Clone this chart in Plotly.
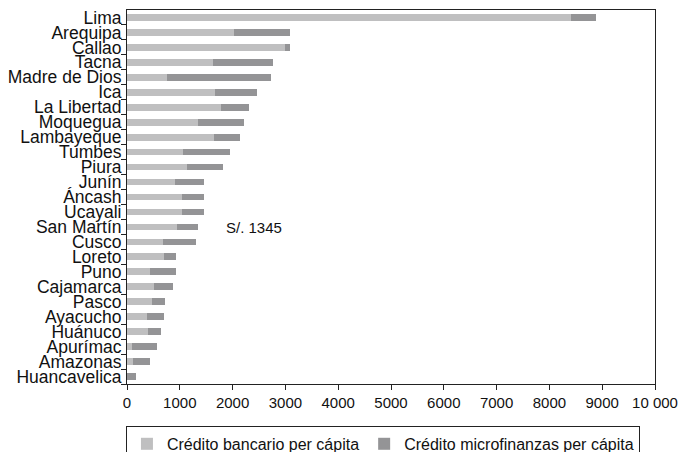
import plotly.graph_objects as go

# Regions, top to bottom as drawn
regions = [
    "Lima", "Arequipa", "Callao", "Tacna", "Madre de Dios", "Ica", "La Libertad",
    "Moquegua", "Lambayeque", "Tumbes", "Piura", "Junín", "Áncash", "Ucayali",
    "San Martín", "Cusco", "Loreto", "Puno", "Cajamarca", "Pasco", "Ayacucho",
    "Huánuco", "Apurímac", "Amazonas", "Huancavelica",
]
credito_bancario = [
    8400, 2020, 3000, 1620, 765, 1670, 1785,
    1350, 1650, 1065, 1140, 915, 1045, 1045,
    955, 690, 705, 440, 515, 480, 385,
    405, 100, 120, 0,
]
credito_microfinanzas = [
    480, 1070, 95, 1150, 1970, 800, 530,
    870, 495, 890, 685, 550, 420, 420,
    395, 625, 230, 495, 360, 245, 320,
    245, 475, 320, 170,
]
x_ticks = [0, 1000, 2000, 3000, 4000, 5000, 6000, 7000, 8000, 9000, 10000]
x_tick_text = ["0", "1000", "2000", "3000", "4000", "5000", "6000", "7000", "8000", "9000", "10 000"]
promedio_label = "S/. 1345"

font_family = "Liberation Sans, Arial, Helvetica, sans-serif"

fig = go.Figure()
fig.add_trace(
    go.Bar(
        y=regions,
        x=credito_bancario,
        orientation="h",
        name="Crédito bancario per cápita",
        marker=dict(color="#bfbfc0", line=dict(width=0)),
        width=0.45,
    )
)
fig.add_trace(
    go.Bar(
        y=regions,
        x=credito_microfinanzas,
        orientation="h",
        name="Crédito microfinanzas per cápita",
        marker=dict(color="#949496", line=dict(width=0)),
        width=0.45,
    )
)

fig.add_annotation(
    x=1830,
    y="San Martín",
    text=promedio_label,
    showarrow=False,
    xanchor="left",
    yanchor="middle",
    yshift=-1,
    font=dict(size=15, color="#111111", family=font_family),
)

fig.update_layout(
    width=683,
    height=452,
    barmode="stack",
    plot_bgcolor="white",
    paper_bgcolor="white",
    margin=dict(l=127, r=28, t=10, b=68, autoexpand=False),
    font=dict(family=font_family, color="#111111", size=15),
    legend=dict(
        orientation="h",
        x=-0.002,
        xanchor="left",
        y=-0.112,
        yanchor="top",
        bordercolor="#222222",
        borderwidth=1,
        font=dict(size=16),
        itemwidth=30,
        traceorder="normal",
    ),
    xaxis=dict(
        range=[0, 10000],
        tickmode="array",
        tickvals=x_ticks,
        ticktext=x_tick_text,
        ticks="outside",
        ticklen=5,
        tickcolor="#222222",
        showline=True,
        linecolor="#222222",
        linewidth=1,
        mirror=True,
        showgrid=False,
        zeroline=False,
        automargin=False,
        tickfont=dict(size=15),
    ),
    yaxis=dict(
        categoryorder="array",
        categoryarray=regions[::-1],
        tickmode="array",
        tickvals=regions,
        autorange=False,
        range=[-0.5, len(regions) - 0.5],
        tickson="boundaries",
        ticks="outside",
        ticklen=5,
        tickcolor="#222222",
        showline=True,
        linecolor="#222222",
        linewidth=1,
        mirror=True,
        showgrid=False,
        automargin=False,
        tickfont=dict(size=17.5),
        ticklabelstandoff=1,
    ),
)

# drop the default 8px page margin so the figure fills the window exactly
fig.write_html(
    "out.html",
    config={"displayModeBar": False},
    post_script="document.body.style.margin = '0';",
)
